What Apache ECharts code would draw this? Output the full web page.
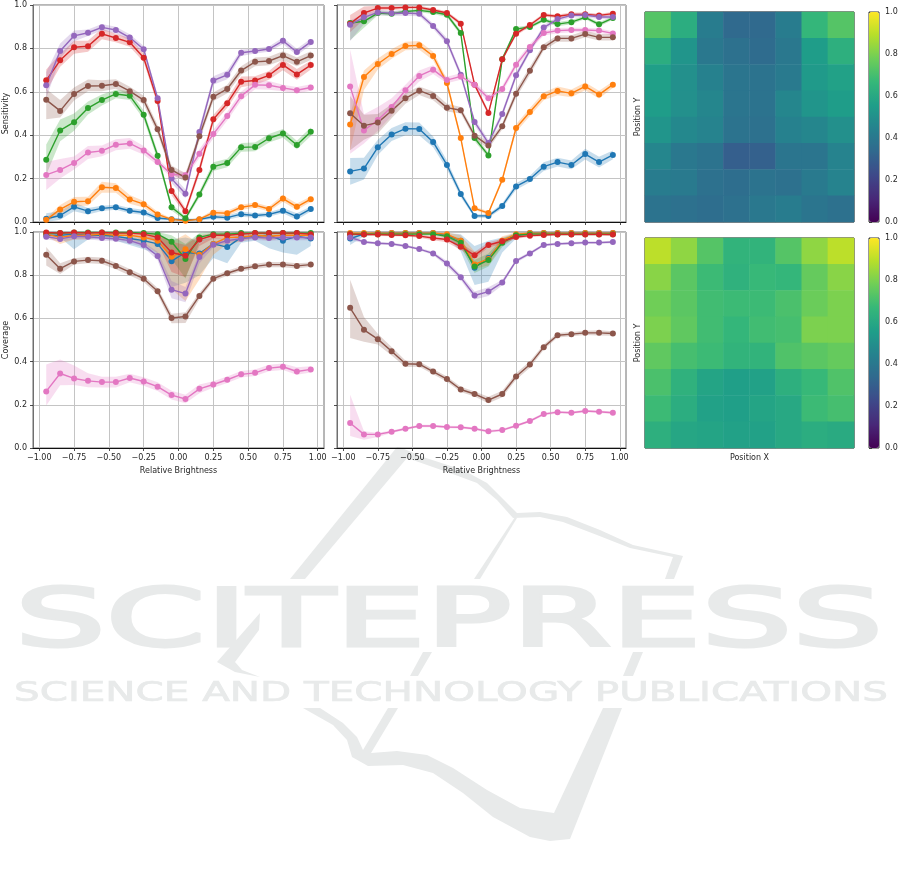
<!DOCTYPE html>
<html>
<head>
<meta charset="utf-8">
<style>html,body{margin:0;padding:0;background:#fff}#c{width:901px;height:876px}</style>
<script src="https://cdn.jsdelivr.net/npm/echarts@6/dist/echarts.min.js"></script>
</head>
<body>
<div id="c"></div>
<script>
const brightness = [-0.95,-0.85,-0.75,-0.65,-0.55,-0.45,-0.35,-0.25,-0.15,-0.05,0.05,0.15,0.25,0.35,0.45,0.55,0.65,0.75,0.85,0.95];
const xTicks = [-1,-0.75,-0.5,-0.25,0,0.25,0.5,0.75,1];

// Panel A: Sensitivity, left
const A_blue   = [.015,.03,.07,.05,.063,.068,.052,.044,.018,.013,.01,.012,.024,.02,.036,.03,.035,.052,.025,.06];
const A_orange = [.01,.058,.093,.096,.16,.157,.104,.082,.035,.012,.006,.013,.043,.04,.068,.078,.06,.108,.07,.105];
const A_green  = [.287,.422,.46,.525,.562,.59,.582,.494,.305,.068,.017,.127,.255,.272,.344,.346,.386,.408,.355,.416];
const A_red    = [.653,.745,.805,.81,.867,.848,.828,.757,.558,.143,.05,.24,.473,.547,.646,.652,.676,.724,.68,.723];
const A_purple = [.63,.788,.858,.872,.897,.885,.85,.796,.57,.2,.13,.415,.652,.678,.78,.788,.797,.835,.783,.83];
const A_pink   = [.217,.24,.272,.32,.328,.356,.362,.33,.277,.22,.215,.315,.405,.488,.58,.632,.63,.618,.607,.62];
const A_brown  = [.563,.512,.59,.627,.628,.636,.603,.562,.427,.24,.205,.395,.577,.613,.698,.738,.742,.767,.738,.767];
const A_blue_up   = [.025,.02,.02,.015,.012,.012,.012,.012,.01,.005,.005,.005,.01,.01,.012,.01,.01,.012,.015,.012];
const A_orange_up = [.01,.02,.022,.02,.025,.022,.02,.015,.012,.005,.003,.005,.012,.012,.012,.012,.012,.015,.015,.012];
const A_green_up  = [.07,.05,.04,.03,.025,.02,.02,.02,.02,.015,.01,.015,.02,.02,.02,.02,.02,.02,.02,.02];
const A_red_up    = [.05,.03,.03,.025,.025,.02,.02,.02,.02,.02,.015,.02,.02,.02,.025,.02,.02,.025,.025,.02];
const A_purple_up = [.06,.035,.025,.015,.015,.015,.015,.015,.015,.02,.02,.02,.02,.02,.015,.012,.012,.015,.015,.015];
const A_pink_up   = [.06,.05,.03,.03,.025,.025,.025,.02,.015,.015,.015,.02,.02,.02,.02,.02,.02,.015,.015,.015];
const A_brown_up  = [.05,.05,.03,.03,.025,.022,.02,.02,.02,.02,.02,.02,.02,.02,.02,.02,.02,.02,.02,.02];
const A_pink_dn   = [.07,.04,.03,.03,.025,.025,.025,.02,.015,.015,.015,.02,.02,.02,.02,.02,.02,.015,.015,.015];
const A_brown_dn  = [.09,.03,.03,.025,.025,.022,.02,.02,.02,.02,.02,.02,.02,.02,.02,.02,.02,.02,.02,.02];

// Panel B: Sensitivity, right
const B_blue   = [.233,.246,.344,.403,.43,.429,.369,.263,.129,.028,.028,.074,.164,.198,.255,.276,.263,.313,.276,.309];
const B_orange = [.449,.668,.728,.774,.811,.814,.765,.64,.387,.063,.041,.195,.433,.507,.579,.604,.593,.625,.587,.633];
const B_green  = [.917,.925,.963,.96,.97,.975,.968,.955,.871,.387,.307,.75,.889,.899,.932,.912,.921,.943,.911,.94];
const B_red    = [.914,.963,.986,.986,.989,.989,.977,.963,.914,.633,.502,.75,.868,.908,.954,.948,.957,.957,.952,.96];
const B_purple = [.909,.943,.966,.962,.963,.96,.903,.833,.679,.461,.364,.498,.676,.791,.896,.935,.952,.954,.945,.945];
const B_pink   = [.625,.422,.47,.53,.607,.673,.702,.654,.671,.633,.57,.613,.725,.806,.871,.882,.885,.885,.882,.869];
const B_brown  = [.501,.444,.458,.513,.57,.605,.581,.527,.515,.398,.353,.441,.591,.697,.805,.846,.846,.866,.851,.851];
const B_blue_up   = [.062,.05,.035,.03,.03,.03,.025,.02,.015,.008,.008,.012,.015,.015,.02,.02,.02,.025,.025,.02];
const B_blue_dn   = [.061,.05,.035,.03,.03,.03,.025,.02,.015,.008,.008,.012,.015,.015,.02,.02,.02,.025,.025,.02];
const B_orange_up = [.05,.03,.025,.022,.02,.02,.02,.018,.012,.008,.008,.012,.018,.018,.018,.02,.018,.018,.018,.015];
const B_orange_dn = [.12,.06,.025,.022,.02,.02,.02,.018,.012,.008,.008,.012,.018,.018,.018,.02,.018,.018,.018,.015];
const B_green_up  = [.01,.012,.01,.01,.008,.008,.01,.01,.012,.015,.012,.012,.01,.008,.008,.01,.01,.008,.01,.008];
const B_green_dn  = [.08,.03,.01,.01,.008,.008,.01,.01,.012,.015,.012,.012,.01,.008,.008,.01,.01,.008,.01,.008];
const B_red_up    = [.04,.03,.01,.01,.008,.008,.008,.008,.01,.01,.012,.01,.01,.008,.008,.008,.008,.008,.008,.008];
const B_purple_up = [.02,.015,.012,.012,.012,.012,.012,.015,.015,.015,.015,.015,.015,.012,.012,.01,.01,.01,.01,.01];
const B_purple_dn = [.075,.03,.012,.012,.012,.012,.012,.015,.015,.015,.015,.015,.015,.012,.012,.01,.01,.01,.01,.01];
const B_pink_up   = [.17,.075,.06,.04,.025,.025,.02,.015,.015,.015,.015,.015,.015,.015,.012,.012,.01,.01,.01,.01];
const B_pink_dn   = [.31,.06,.05,.04,.025,.025,.02,.015,.015,.015,.015,.015,.015,.015,.012,.012,.01,.01,.01,.01];
const B_brown_up  = [.08,.05,.04,.03,.025,.02,.02,.018,.015,.015,.015,.015,.018,.018,.015,.015,.015,.015,.015,.015];
const B_brown_dn  = [.17,.065,.05,.035,.025,.02,.02,.018,.015,.015,.015,.015,.018,.018,.015,.015,.015,.015,.015,.015];

// Panel C: Coverage, left
const C_blue   = [.985,.985,.99,.985,.985,.98,.97,.96,.945,.865,.905,.9,.945,.93,.975,.98,.985,.96,.98,.97];
const C_orange = [.99,.975,.985,.985,.99,.985,.985,.975,.96,.885,.92,.895,.945,.975,.975,.985,.98,.985,.985,.985];
const C_green  = [.995,.995,.998,.998,.998,.998,.998,.995,.99,.955,.875,.975,.99,.99,.995,.995,.995,.995,.995,.995];
const C_red    = [.998,.995,.998,.995,.998,.995,.995,.99,.975,.905,.89,.965,.985,.985,.99,.995,.995,.995,.995,.99];
const C_purple = [.978,.968,.98,.978,.972,.969,.96,.94,.889,.733,.715,.884,.941,.96,.969,.975,.972,.975,.974,.974];
const C_pink   = [.262,.345,.322,.311,.305,.305,.324,.308,.284,.245,.227,.274,.294,.316,.341,.348,.37,.376,.354,.364];
const C_brown  = [.895,.83,.864,.87,.867,.843,.814,.784,.726,.602,.609,.704,.784,.809,.83,.841,.849,.849,.843,.849];
const C_blue_up   = [.015,.015,.01,.01,.01,.01,.02,.02,.03,.1,.07,.06,.03,.04,.015,.015,.01,.03,.02,.03];
const C_blue_dn   = [.01,.01,.07,.02,.015,.02,.03,.04,.05,.12,.14,.1,.065,.075,.025,.02,.06,.055,.085,.035];
const C_orange_up = [.01,.02,.01,.01,.01,.01,.01,.02,.03,.07,.07,.05,.04,.02,.02,.01,.02,.01,.01,.01];
const C_orange_dn = [.01,.03,.02,.02,.01,.015,.02,.03,.06,.15,.24,.115,.05,.03,.02,.01,.02,.01,.01,.01];
const C_green_up  = [.005,.005,.002,.002,.002,.002,.002,.005,.01,.03,.07,.02,.01,.01,.005,.005,.005,.005,.005,.005];
const C_green_dn  = [.005,.005,.002,.002,.002,.002,.002,.005,.015,.08,.09,.025,.01,.01,.005,.005,.005,.005,.005,.005];
const C_red_up    = [.002,.005,.002,.005,.002,.005,.005,.01,.015,.05,.05,.02,.01,.01,.01,.005,.005,.005,.005,.01];
const C_red_dn    = [.004,.005,.004,.005,.004,.005,.005,.01,.025,.09,.1,.03,.015,.015,.01,.005,.005,.005,.005,.01];
const C_purple_up = [.012,.012,.01,.012,.012,.012,.012,.012,.02,.04,.03,.02,.012,.012,.012,.012,.012,.012,.012,.012];
const C_purple_dn = [.012,.012,.015,.012,.012,.012,.012,.012,.02,.04,.04,.03,.012,.012,.012,.012,.012,.012,.012,.012];
const C_pink_up   = [.125,.065,.06,.035,.025,.025,.02,.02,.02,.02,.02,.02,.015,.015,.015,.015,.015,.015,.02,.015];
const C_pink_dn   = [.065,.055,.03,.03,.025,.025,.02,.02,.02,.02,.02,.02,.015,.015,.015,.015,.015,.015,.015,.015];
const C_brown_up  = [.035,.025,.015,.015,.015,.015,.015,.015,.015,.02,.02,.015,.012,.012,.012,.012,.012,.012,.012,.01];
const C_brown_dn  = [.05,.025,.015,.015,.015,.015,.015,.015,.015,.025,.03,.015,.012,.012,.012,.012,.012,.012,.012,.01];

// Panel D: Coverage, right
const D_blue   = [.97,.99,.995,.995,.995,.995,.995,.985,.96,.835,.88,.955,.985,.995,.995,.995,.995,.995,.995,.995];
const D_orange = [.995,.995,.995,.995,.995,.995,.995,.99,.96,.85,.875,.96,.99,.995,.995,.995,.995,.995,.995,.995];
const D_green  = [.99,.99,.99,.99,.99,.99,.99,.98,.95,.84,.87,.95,.985,.99,.99,.99,.99,.99,.99,.99];
const D_red    = [.99,.989,.988,.986,.985,.981,.972,.965,.932,.892,.94,.957,.977,.983,.986,.989,.989,.989,.989,.988];
const D_purple = [.975,.954,.948,.945,.935,.921,.901,.854,.79,.706,.724,.766,.866,.901,.94,.945,.948,.951,.951,.954];
const D_pink   = [.116,.063,.063,.075,.089,.102,.102,.097,.096,.089,.077,.083,.103,.125,.157,.166,.163,.171,.168,.163];
const D_brown  = [.649,.547,.504,.448,.39,.388,.354,.319,.271,.25,.222,.25,.331,.387,.467,.522,.527,.533,.533,.53];
const D_blue_up   = [.02,.005,.004,.004,.004,.004,.004,.01,.03,.1,.08,.02,.01,.004,.004,.004,.004,.004,.004,.004];
const D_blue_dn   = [.03,.01,.005,.004,.004,.004,.004,.01,.05,.08,.11,.05,.015,.004,.004,.004,.004,.004,.004,.004];
const D_orange_up = [.004,.004,.004,.004,.004,.004,.004,.008,.025,.06,.05,.02,.008,.004,.004,.004,.004,.004,.004,.004];
const D_orange_dn = [.004,.004,.004,.004,.004,.004,.004,.008,.025,.02,.03,.02,.008,.004,.004,.004,.004,.004,.004,.004];
const D_green_up  = [.006,.006,.006,.006,.006,.006,.006,.008,.02,.03,.03,.02,.008,.006,.006,.006,.006,.006,.006,.006];
const D_red_up    = [.006,.006,.006,.006,.006,.008,.01,.012,.015,.015,.012,.012,.008,.006,.006,.006,.006,.006,.006,.006];
const D_purple_up = [.012,.006,.006,.006,.006,.006,.008,.012,.012,.018,.02,.012,.008,.008,.006,.006,.006,.006,.006,.006];
const D_pink_up   = [.13,.015,.008,.006,.006,.006,.006,.006,.006,.006,.006,.006,.006,.006,.006,.006,.006,.006,.006,.006];
const D_pink_dn   = [.06,.025,.012,.006,.006,.006,.006,.006,.006,.006,.006,.006,.006,.006,.006,.006,.006,.006,.006,.006];
const D_brown_up  = [.13,.06,.025,.02,.015,.012,.012,.012,.012,.012,.015,.015,.015,.015,.012,.01,.01,.01,.012,.01];
const D_brown_dn  = [.14,.055,.025,.02,.015,.012,.012,.012,.012,.012,.015,.015,.015,.015,.012,.01,.01,.01,.012,.01];

// Heatmap 1 (top row first)
const H1_r1 = [.73,.62,.42,.34,.34,.42,.66,.73];
const H1_r2 = [.62,.52,.40,.37,.35,.40,.55,.63];
const H1_r3 = [.56,.50,.44,.39,.38,.41,.54,.57];
const H1_r4 = [.55,.50,.46,.39,.38,.46,.52,.55];
const H1_r5 = [.52,.47,.45,.38,.37,.44,.46,.50];
const H1_r6 = [.46,.40,.38,.30,.31,.39,.39,.45];
const H1_r7 = [.42,.41,.37,.36,.38,.37,.41,.45];
const H1_r8 = [.38,.37,.36,.37,.40,.42,.39,.37];
// Heatmap 2 (top row first)
const H2_r1 = [.90,.83,.73,.65,.65,.73,.83,.90];
const H2_r2 = [.82,.74,.68,.64,.67,.66,.76,.82];
const H2_r3 = [.78,.74,.69,.68,.68,.71,.77,.80];
const H2_r4 = [.80,.75,.69,.66,.69,.70,.80,.80];
const H2_r5 = [.75,.70,.68,.65,.65,.72,.74,.76];
const H2_r6 = [.71,.64,.58,.56,.57,.63,.67,.72];
const H2_r7 = [.68,.62,.57,.56,.58,.60,.68,.70];
const H2_r8 = [.63,.59,.58,.57,.57,.60,.62,.61];

const colors = {blue:'#1f77b4',orange:'#ff7f0e',green:'#2ca02c',red:'#d62728',purple:'#9467bd',pink:'#e377c2',brown:'#8c564b'};
const viridis = ['#440154','#482878','#3e4989','#31688e','#26828e','#1f9e89','#35b779','#6ece58','#b5de2b','#fde725'];
const FONT = 'DejaVu Sans';
const TXT = '#262626';

const panels = [
  {g:0,means:{blue:A_blue,orange:A_orange,green:A_green,red:A_red,purple:A_purple,pink:A_pink,brown:A_brown},
   up:{blue:A_blue_up,orange:A_orange_up,green:A_green_up,red:A_red_up,purple:A_purple_up,pink:A_pink_up,brown:A_brown_up},
   dn:{pink:A_pink_dn,brown:A_brown_dn}},
  {g:1,means:{blue:B_blue,orange:B_orange,green:B_green,red:B_red,purple:B_purple,pink:B_pink,brown:B_brown},
   up:{blue:B_blue_up,orange:B_orange_up,green:B_green_up,red:B_red_up,purple:B_purple_up,pink:B_pink_up,brown:B_brown_up},
   dn:{blue:B_blue_dn,orange:B_orange_dn,green:B_green_dn,purple:B_purple_dn,pink:B_pink_dn,brown:B_brown_dn}},
  {g:2,means:{blue:C_blue,orange:C_orange,green:C_green,red:C_red,purple:C_purple,pink:C_pink,brown:C_brown},
   up:{blue:C_blue_up,orange:C_orange_up,green:C_green_up,red:C_red_up,purple:C_purple_up,pink:C_pink_up,brown:C_brown_up},
   dn:{blue:C_blue_dn,orange:C_orange_dn,green:C_green_dn,red:C_red_dn,purple:C_purple_dn,pink:C_pink_dn,brown:C_brown_dn}},
  {g:3,means:{blue:D_blue,orange:D_orange,green:D_green,red:D_red,purple:D_purple,pink:D_pink,brown:D_brown},
   up:{blue:D_blue_up,orange:D_orange_up,green:D_green_up,red:D_red_up,purple:D_purple_up,pink:D_pink_up,brown:D_brown_up},
   dn:{blue:D_blue_dn,orange:D_orange_dn,pink:D_pink_dn,brown:D_brown_dn}}
];

const grid = [
  {left:33,top:5,width:291,height:217,borderColor:'#6f6f6f'},
  {left:337,top:5,width:289,height:217,borderColor:'#6f6f6f'},
  {left:33,top:232,width:291,height:216,borderColor:'#6f6f6f'},
  {left:337,top:232,width:289,height:216,borderColor:'#6f6f6f'},
  {left:645,top:12,width:209,height:210,borderColor:'#111'},
  {left:645,top:238,width:209,height:210,borderColor:'#111'},
  {left:869,top:12,width:10,height:210,borderColor:'#333'},
  {left:869,top:238,width:10,height:210,borderColor:'#333'}
].map(g => Object.assign({show:true,borderWidth:1,backgroundColor:'transparent'},g));

const tickLbl = {fontFamily:FONT,fontSize:8,color:TXT};
const lineX = (g,labels,name) => ({
  gridIndex:g,type:'value',min:-1.045,max:1.045,
  name,nameLocation:'middle',nameGap:19,nameTextStyle:{fontFamily:FONT,fontSize:8,color:TXT},
  axisLine:{show:true,onZero:false,lineStyle:{color:'#111',width:1}},
  axisTick:{show:true,length:3,customValues:xTicks,lineStyle:{color:'#222',width:.8}},
  axisLabel:{show:labels,margin:6,customValues:xTicks,...tickLbl,
    formatter:v=>v.toFixed(2).replace('-','\u2212')},
  splitLine:{show:true,lineStyle:{color:'#c4c4c4',width:1}}
});
const lineY = (g,labels,name) => ({
  gridIndex:g,type:'value',min:0,max:1,interval:.2,
  name,nameLocation:'middle',nameGap:21,nameTextStyle:{fontFamily:FONT,fontSize:8,color:TXT},
  axisLine:{show:true,onZero:false,lineStyle:{color:'#6f6f6f',width:1}},
  axisTick:{show:true,length:3,lineStyle:{color:'#222',width:.8}},
  axisLabel:{show:labels,margin:6,...tickLbl,formatter:v=>v.toFixed(1)},
  splitLine:{show:true,lineStyle:{color:'#c4c4c4',width:1}}
});
const xAxis = [lineX(0,false,''),lineX(1,false,''),lineX(2,true,'Relative Brightness'),lineX(3,true,'Relative Brightness')];
const yAxis = [lineY(0,true,'Sensitivity'),lineY(1,false,''),lineY(2,true,'Coverage'),lineY(3,false,'')];

const cols = ['0','1','2','3','4','5','6','7'];
const plain = {axisLine:{show:false},axisTick:{show:false},axisLabel:{show:false},splitLine:{show:false}};
const nameSt = {fontFamily:FONT,fontSize:8,color:TXT};
xAxis.push({gridIndex:4,type:'category',data:cols,...plain});
xAxis.push({gridIndex:5,type:'category',data:cols,name:'Position X',nameLocation:'middle',nameGap:6,nameTextStyle:nameSt,...plain});
yAxis.push({gridIndex:4,type:'category',data:cols,inverse:true,name:'Position Y',nameLocation:'middle',nameGap:3,nameTextStyle:nameSt,...plain});
yAxis.push({gridIndex:5,type:'category',data:cols,inverse:true,name:'Position Y',nameLocation:'middle',nameGap:3,nameTextStyle:nameSt,...plain});
[6,7].forEach(g=>{
  xAxis.push({gridIndex:g,type:'value',min:0,max:1,show:false});
  yAxis.push({gridIndex:g,type:'value',position:'right',min:0,max:1,interval:.2,
    axisLine:{show:false},axisTick:{show:true,length:3,lineStyle:{color:'#222',width:.8}},
    axisLabel:{show:true,margin:6,...tickLbl,formatter:v=>v.toFixed(1)},splitLine:{show:false}});
});

const series = [];
panels.forEach(p=>{
  Object.keys(p.means).forEach(k=>{
    const m = p.means[k], up = p.up[k], dn = p.dn[k] || p.up[k];
    const rows = brightness.map((x,i)=>[x,Math.max(0,m[i]-dn[i]),Math.min(1,m[i]+up[i])]);
    series.push({
      type:'custom',coordinateSystem:'cartesian2d',xAxisIndex:p.g,yAxisIndex:p.g,silent:true,clip:true,
      data:rows,encode:{x:0,y:[1,2]},
      renderItem:(params,api)=>{
        if(params.dataIndex!==0) return null;
        const top = rows.map(r=>api.coord([r[0],r[2]]));
        const bot = rows.map(r=>api.coord([r[0],r[1]])).reverse();
        return {type:'polygon',shape:{points:top.concat(bot)},style:{fill:colors[k],opacity:.25}};
      }
    });
    series.push({
      type:'line',xAxisIndex:p.g,yAxisIndex:p.g,silent:true,clip:false,
      data:brightness.map((x,i)=>[x,m[i]]),
      symbol:'circle',symbolSize:6,showSymbol:true,showAllSymbol:true,
      lineStyle:{color:colors[k],width:1.4},itemStyle:{color:colors[k]}
    });
  });
});
const toCells = rows => rows.flatMap((r,y)=>r.map((v,x)=>[x,y,v]));
const h1Index = series.length;
series.push({type:'heatmap',xAxisIndex:4,yAxisIndex:4,silent:true,data:toCells([H1_r1,H1_r2,H1_r3,H1_r4,H1_r5,H1_r6,H1_r7,H1_r8]),itemStyle:{borderWidth:0}});
series.push({type:'heatmap',xAxisIndex:5,yAxisIndex:5,silent:true,data:toCells([H2_r1,H2_r2,H2_r3,H2_r4,H2_r5,H2_r6,H2_r7,H2_r8]),itemStyle:{borderWidth:0}});

const vm = (idx,top)=>({type:'continuous',seriesIndex:idx,min:0,max:1,left:869,top,padding:0,
  itemWidth:10,itemHeight:210,calculable:false,showLabel:false,text:null,hoverLink:false,
  inRange:{color:viridis},borderWidth:0});

// Publisher watermark, drawn behind the chart
const WM = '#e8eaea';
const wmShapes = [
  [[397,447],[290,579],[305,579],[407,458],[450,473],[477,483],[497,500],[513,518],[540,517],[563,522],[597,535],[630,548],[673,557],[665,579],[674,579],[683,556],[633,545],[600,530],[567,517],[540,512],[517,513],[507,503],[487,483],[463,470],[423,457],[402,448]],
  [[515,517],[474,579],[480,579],[517,518]],
  [[438,632],[445,632],[438,642]],
  [[423,652],[432,652],[418,676],[410,676]],
  [[633,652],[643,652],[633,676],[623,676]],
  [[260,613],[259,630],[235,662],[242,670],[260,677],[235,672],[217,662]],
  [[303,708],[320,708],[343,723],[357,737],[363,750],[388,708],[398,708],[371,753],[397,751],[427,755],[453,768],[487,790],[520,808],[554,813],[603,708],[622,708],[570,839],[550,841],[530,837],[493,817],[463,793],[433,773],[403,765],[368,766],[352,757],[347,740],[333,725]]
];
const graphic = wmShapes.map(pts=>({type:'polygon',z:-1,silent:true,shape:{points:pts},style:{fill:WM}}));
const measure = document.createElement('canvas').getContext('2d');
const fitText = (text,size,stroke,x,y,w)=>{
  measure.font = size+'px "DejaVu Sans"';
  return {type:'text',z:-1,silent:true,x,y,scaleX:w/measure.measureText(text).width,
    style:{text,fontFamily:FONT,fontSize:size,fill:WM,stroke:WM,lineWidth:stroke,textAlign:'left',textVerticalAlign:'top'}};
};
graphic.push(fitText('SCITEPRESS',80,3,15,585,868));
graphic.push(fitText('SCIENCE AND TECHNOLOGY PUBLICATIONS',26,.7,14,681,874));

echarts.init(document.getElementById('c'),null,{renderer:'canvas'}).setOption({
  animation:false,backgroundColor:'#fff',tooltip:{show:false},
  grid,xAxis,yAxis,series,graphic,
  visualMap:[vm(h1Index,12),vm(h1Index+1,238)]
});
</script>
</body>
</html>
